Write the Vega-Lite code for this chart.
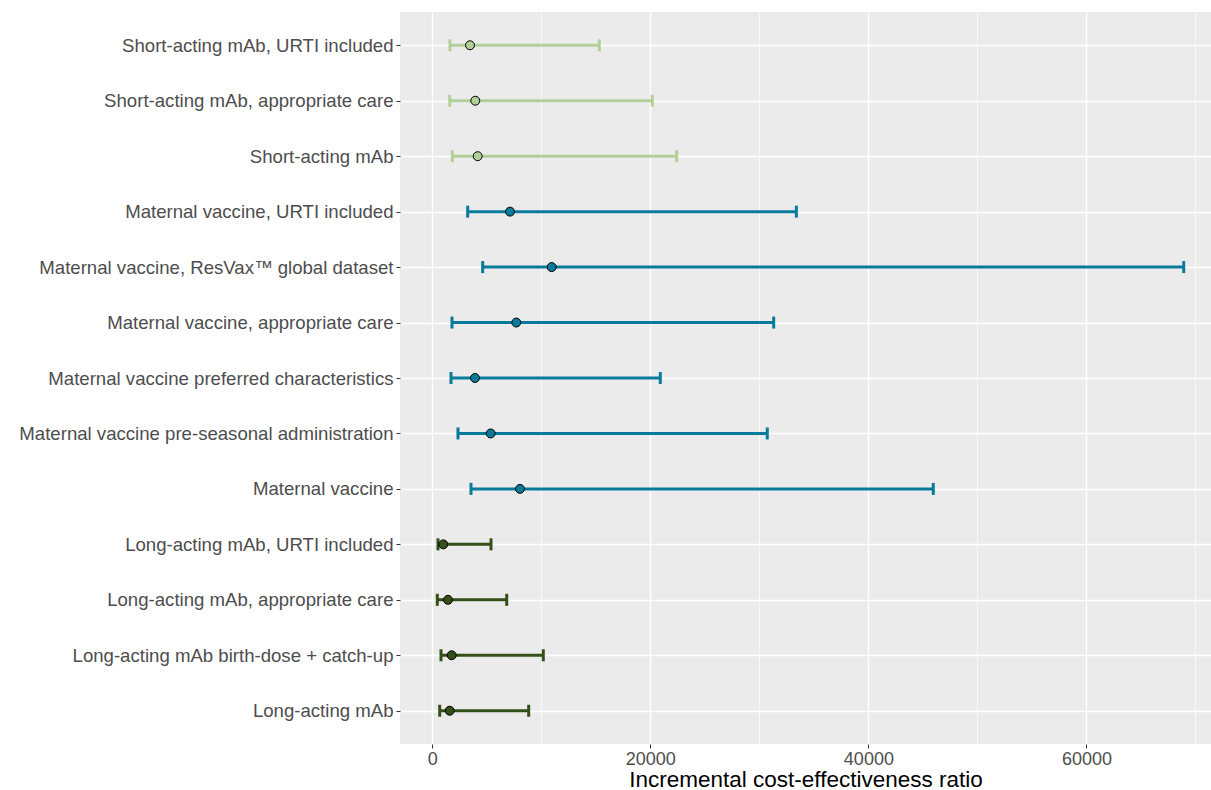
{
  "$schema": "https://vega.github.io/schema/vega-lite/v6.json",
  "width": 811,
  "height": 732,
  "autosize": {"type": "none"},
  "padding": {"left": 400, "top": 12, "right": 0, "bottom": 46},
  "background": "white",
  "config": {
    "view": {"fill": "#ebebeb", "stroke": null},
    "font": "Liberation Sans"
  },
  "data": {
    "values": [
      {"scenario": "Short-acting mAb, URTI included", "group": "Short-acting", "lower": 1623, "icer": 3458, "upper": 15317},
      {"scenario": "Short-acting mAb, appropriate care", "group": "Short-acting", "lower": 1596, "icer": 3944, "upper": 20178},
      {"scenario": "Short-acting mAb", "group": "Short-acting", "lower": 1834, "icer": 4164, "upper": 22416},
      {"scenario": "Maternal vaccine, URTI included", "group": "Maternal", "lower": 3247, "icer": 7127, "upper": 33395},
      {"scenario": "Maternal vaccine, ResVax™ global dataset", "group": "Maternal", "lower": 4623, "icer": 10951, "upper": 68926},
      {"scenario": "Maternal vaccine, appropriate care", "group": "Maternal", "lower": 1807, "icer": 7704, "upper": 31312},
      {"scenario": "Maternal vaccine preferred characteristics", "group": "Maternal", "lower": 1715, "icer": 3916, "upper": 20912},
      {"scenario": "Maternal vaccine pre-seasonal administration", "group": "Maternal", "lower": 2357, "icer": 5356, "upper": 30725},
      {"scenario": "Maternal vaccine", "group": "Maternal", "lower": 3549, "icer": 8044, "upper": 45951},
      {"scenario": "Long-acting mAb, URTI included", "group": "Long-acting", "lower": 523, "icer": 1009, "upper": 5384},
      {"scenario": "Long-acting mAb, appropriate care", "group": "Long-acting", "lower": 459, "icer": 1440, "upper": 6824},
      {"scenario": "Long-acting mAb birth-dose + catch-up", "group": "Long-acting", "lower": 798, "icer": 1779, "upper": 10181},
      {"scenario": "Long-acting mAb", "group": "Long-acting", "lower": 679, "icer": 1596, "upper": 8842}
    ]
  },
  "encoding": {
    "y": {
      "field": "scenario",
      "type": "nominal",
      "sort": null,
      "scale": {"type": "point", "padding": 0.6},
      "axis": {
        "title": null,
        "grid": true,
        "gridColor": "white",
        "gridWidth": 1.4,
        "domain": false,
        "ticks": true,
        "tickColor": "#333333",
        "tickSize": 4,
        "tickWidth": 1,
        "labelFontSize": 18.6,
        "labelColor": "#4d4d4d",
        "labelPadding": 3,
        "labelLimit": 0,
        "labelFont": "Liberation Sans"
      }
    },
    "color": {
      "field": "group",
      "type": "nominal",
      "legend": null,
      "scale": {
        "domain": ["Short-acting", "Maternal", "Long-acting"],
        "range": ["#b3cf99", "#087a9a", "#344f18"]
      }
    }
  },
  "layer": [
    {
      "mark": {"type": "rule", "strokeWidth": 0},
      "encoding": {
        "x": {
          "field": "lower",
          "type": "quantitative",
          "scale": {"domain": [-2962, 71425], "nice": false, "zero": false},
          "axis": {
            "orient": "top",
            "values": [10000, 30000, 50000, 70000],
            "grid": true,
            "gridColor": "white",
            "gridWidth": 0.7,
            "labels": false,
            "ticks": false,
            "domain": false,
            "title": null
          }
        },
        "x2": {"field": "upper"}
      }
    },
    {
      "mark": {"type": "rule", "strokeWidth": 3},
      "encoding": {
        "x": {
          "field": "lower",
          "type": "quantitative",
          "axis": {
            "values": [0, 20000, 40000, 60000],
            "format": "d",
            "title": "Incremental cost-effectiveness ratio",
            "titleFontSize": 22.5,
            "titleFontWeight": "normal",
            "titleColor": "black",
            "titleFont": "Liberation Sans",
            "titlePadding": 0,
            "grid": true,
            "gridColor": "white",
            "gridWidth": 1.4,
            "domain": false,
            "tickColor": "#333333",
            "tickSize": 4,
            "labelFontSize": 18,
            "labelColor": "#4d4d4d",
            "labelPadding": 2,
            "labelFont": "Liberation Sans"
          }
        },
        "x2": {"field": "upper"}
      }
    },
    {
      "mark": {"type": "tick", "thickness": 3, "size": 12, "opacity": 1},
      "encoding": {"x": {"field": "lower", "type": "quantitative", "axis": null}}
    },
    {
      "mark": {"type": "tick", "thickness": 3, "size": 12, "opacity": 1},
      "encoding": {"x": {"field": "upper", "type": "quantitative", "axis": null}}
    },
    {
      "mark": {"type": "point", "filled": true, "size": 80, "stroke": "black", "strokeWidth": 1, "opacity": 1},
      "encoding": {
        "x": {"field": "icer", "type": "quantitative", "axis": null},
        "fill": {
          "field": "group",
          "type": "nominal",
          "legend": null,
          "scale": {
            "domain": ["Short-acting", "Maternal", "Long-acting"],
            "range": ["#b3cf99", "#087a9a", "#344f18"]
          }
        }
      }
    }
  ],
  "resolve": {"axis": {"x": "independent"}}
}
